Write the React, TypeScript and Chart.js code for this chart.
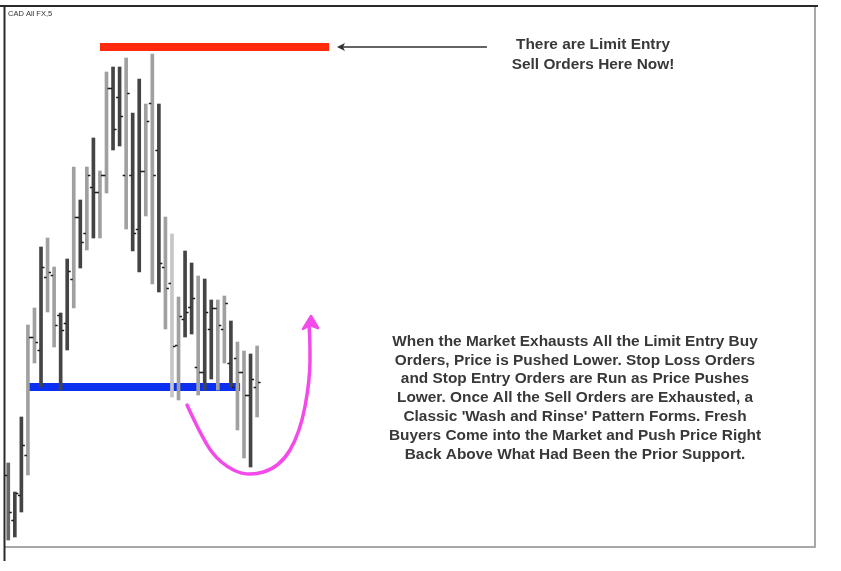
import React, { useEffect, useRef } from "react";
import { Chart, registerables } from "chart.js";

Chart.register(...registerables);

// ---- Data (price units, arbitrary) ----
const highs = [84, 55, 130, 222, 239, 300, 309, 280, 234, 288, 380, 347, 380, 409, 376, 475, 480, 480, 489, 434, 468, 443, 493, 443, 330, 313, 250, 296, 284, 271, 268, 247, 247, 251, 226, 205, 196, 193, 201];
const lows = [7, 10, 35, 72, 184, 160, 235, 200, 157, 197, 239, 279, 297, 309, 309, 354, 397, 401, 318, 296, 275, 331, 263, 255, 218, 150, 147, 210, 213, 152, 157, 168, 157, 184, 160, 117, 89, 80, 130];
const opens = [72, 27, 52, 92, 210, 197, 270, 272, 232, 224, 268, 330, 314, 360, 355, 372, 459, 450, 372, 372, 318, 376, 444, 397, 280, 264, 202, 228, 240, 180, 175, 218, 239, 218, 184, 189, 175, 152, 160];
const closes = [35, 54, 102, 210, 205, 280, 275, 222, 217, 276, 330, 305, 372, 355, 372, 459, 418, 431, 454, 314, 376, 426, 372, 284, 259, 201, 231, 235, 249, 175, 235, 239, 222, 244, 160, 175, 152, 168, 165];
const tones = ["m", "d", "d", "g", "g", "d", "g", "g", "d", "d", "g", "d", "g", "d", "g", "g", "d", "d", "g", "d", "d", "g", "g", "d", "g", "l", "g", "d", "d", "g", "d", "d", "g", "g", "d", "g", "g", "d", "g"];

const symbolLabel = "CAD All FX,5";

// Resistance (red) and support (blue) levels: [price, fromIndex, toIndex]
const resistanceLevel = [500, 14, 49];
const supportLevel = [160, 3, 35.4];

// Black arrow pointing at resistance: [price, tipIndex, tailIndex]
const pointerArrow = [500, 50.2, 73.1];

// Magenta "wash and rinse" path: [index, price]
const washPath = [
  [27.3, 142], [29.74, 107], [32.34, 84], [36.46, 70], [41.5, 80],
  [44.55, 114], [46.08, 167], [46.08, 207], [45.93, 222],
];
const washTip = [46.23, 231];

const topNoteLines = ["There are Limit Entry", "Sell Orders Here Now!"];
const topNoteAnchor = [89.3, 502];
const bodyNoteLines = [
  "When the Market Exhausts All the Limit Entry Buy",
  "Orders, Price is Pushed Lower. Stop Loss Orders",
  "and Stop Entry Orders are Run as Price Pushes",
  "Lower. Once All the Sell Orders are Exhausted, a",
  "Classic 'Wash and Rinse' Pattern Forms. Fresh",
  "Buyers Come into the Market and Push Price Right",
  "Back Above What Had Been the Prior Support.",
];
const bodyNoteAnchor = [86.55, 205];
const noteLineStep = 18.8;

const toneColors: Record<string, string> = {
  d: "#444444",
  g: "#a0a0a0",
  l: "#c6c6c6",
  m: "#666666",
};

const TEXT_FONT = 'bold 14px "Liberation Sans", Arial, sans-serif';
const TEXT_STRETCH = 1.1;

export default function App() {
  const ref = useRef<HTMLCanvasElement | null>(null);

  useEffect(() => {
    const canvas = ref.current;
    if (!canvas) return;

    const framePlugin = {
      id: "frame",
      beforeDraw(chart: any) {
        const { ctx, chartArea } = chart;
        ctx.save();
        ctx.fillStyle = "#ffffff";
        ctx.fillRect(0, 0, chart.width, chart.height);
        ctx.strokeStyle = "#a8a8a8";
        ctx.lineWidth = 2;
        ctx.beginPath();
        ctx.moveTo(chartArea.left, chartArea.bottom);
        ctx.lineTo(chartArea.right + 1, chartArea.bottom);
        ctx.moveTo(chartArea.right, chartArea.top);
        ctx.lineTo(chartArea.right, chartArea.bottom + 1);
        ctx.stroke();
        ctx.strokeStyle = "#2a2a2a";
        ctx.beginPath();
        ctx.moveTo(0, chartArea.top - 1);
        ctx.lineTo(chartArea.right + 3, chartArea.top - 1);
        ctx.moveTo(chartArea.left - 0.5, chartArea.top - 1);
        ctx.lineTo(chartArea.left - 0.5, chartArea.bottom + 14);
        ctx.stroke();
        ctx.fillStyle = "#333";
        ctx.font = '7.5px "Liberation Sans", Arial, sans-serif';
        ctx.textAlign = "left";
        ctx.textBaseline = "middle";
        ctx.fillText(symbolLabel, chartArea.left + 3, chartArea.top + 7);
        ctx.restore();
      },
    };

    const levelsPlugin = {
      id: "levels",
      beforeDatasetsDraw(chart: any) {
        const { ctx, scales } = chart;
        const x = scales.x;
        const y = scales.y;
        const drawLevel = (lvl: number[], color: string) => {
          const py = y.getPixelForValue(lvl[0]);
          ctx.fillStyle = color;
          ctx.fillRect(x.getPixelForValue(lvl[1]), py - 4, x.getPixelForValue(lvl[2]) - x.getPixelForValue(lvl[1]), 8);
        };
        ctx.save();
        drawLevel(resistanceLevel, "#ff2a0c");
        drawLevel(supportLevel, "#0c30f0");
        ctx.restore();
      },
    };

    const overlayPlugin = {
      id: "overlay",
      afterDatasetsDraw(chart: any) {
        const { ctx, scales } = chart;
        const x = scales.x;
        const y = scales.y;
        ctx.save();
        ctx.strokeStyle = "#1c1c1c";
        ctx.lineWidth = 1.5;
        for (let i = 0; i < highs.length; i++) {
          const px = x.getPixelForValue(i);
          const po = Math.round(y.getPixelForValue(opens[i])) + 0.5;
          const pc = Math.round(y.getPixelForValue(closes[i])) + 0.5;
          ctx.beginPath();
          ctx.moveTo(px - 3.5, po);
          ctx.lineTo(px - 1, po);
          ctx.moveTo(px + 1, pc);
          ctx.lineTo(px + 3.5, pc);
          ctx.stroke();
        }

        const ay = y.getPixelForValue(pointerArrow[0]);
        const tipX = x.getPixelForValue(pointerArrow[1]);
        const tailX = x.getPixelForValue(pointerArrow[2]);
        ctx.strokeStyle = "#303030";
        ctx.fillStyle = "#303030";
        ctx.lineWidth = 1.6;
        ctx.beginPath();
        ctx.moveTo(tipX + 3, ay);
        ctx.lineTo(tailX, ay);
        ctx.stroke();
        ctx.beginPath();
        ctx.moveTo(tipX, ay);
        ctx.lineTo(tipX + 8, ay - 4);
        ctx.lineTo(tipX + 6, ay);
        ctx.lineTo(tipX + 8, ay + 4);
        ctx.closePath();
        ctx.fill();

        const pts = washPath.map((p) => [x.getPixelForValue(p[0]), y.getPixelForValue(p[1])]);
        ctx.strokeStyle = "#f24be9";
        ctx.lineWidth = 3.5;
        ctx.lineCap = "round";
        ctx.lineJoin = "round";
        ctx.beginPath();
        ctx.moveTo(pts[0][0], pts[0][1]);
        for (let i = 1; i < pts.length - 1; i++) {
          const mx = (pts[i][0] + pts[i + 1][0]) / 2;
          const my = (pts[i][1] + pts[i + 1][1]) / 2;
          ctx.quadraticCurveTo(pts[i][0], pts[i][1], mx, my);
        }
        const last = pts[pts.length - 1];
        ctx.lineTo(last[0], last[1]);
        ctx.stroke();
        const tx = x.getPixelForValue(washTip[0]);
        const ty = y.getPixelForValue(washTip[1]);
        ctx.fillStyle = "#f24be9";
        ctx.lineWidth = 2.5;
        ctx.beginPath();
        ctx.moveTo(tx, ty);
        ctx.lineTo(tx - 8, ty + 13);
        ctx.lineTo(tx - 1, ty + 9);
        ctx.lineTo(tx + 7, ty + 12);
        ctx.closePath();
        ctx.fill();
        ctx.stroke();

        ctx.fillStyle = "#383838";
        ctx.font = TEXT_FONT;
        ctx.textAlign = "center";
        ctx.textBaseline = "middle";
        const drawText = (s: string, cx: number, cy: number) => {
          ctx.save();
          ctx.translate(cx, cy);
          ctx.scale(TEXT_STRETCH, 1);
          ctx.fillText(s, 0, 0);
          ctx.restore();
        };
        topNoteLines.forEach((line, i) => {
          drawText(line, x.getPixelForValue(topNoteAnchor[0]), y.getPixelForValue(topNoteAnchor[1] - i * 20));
        });
        bodyNoteLines.forEach((line, i) => {
          drawText(line, x.getPixelForValue(bodyNoteAnchor[0]), y.getPixelForValue(bodyNoteAnchor[1] - i * noteLineStep));
        });
        ctx.restore();
      },
    };

    const chart = new Chart(canvas, {
      type: "bar",
      data: {
        datasets: [
          {
            data: highs.map((h, i) => ({ x: i, y: [lows[i], h] })) as any,
            backgroundColor: tones.map((t) => toneColors[t]),
            borderWidth: 0,
            barThickness: 3,
          },
        ],
      },
      options: {
        animation: false,
        responsive: false,
        maintainAspectRatio: false,
        layout: { padding: { left: 5, top: 7, right: 26, bottom: 24 } },
        plugins: {
          legend: { display: false },
          tooltip: { enabled: false },
          title: { display: false },
        },
        scales: {
          x: { type: "linear", min: -0.5, max: 123.2, offset: false, display: false },
          y: { min: 0, max: 540, display: false },
        },
      },
      plugins: [framePlugin, levelsPlugin, overlayPlugin],
    });

    return () => chart.destroy();
  }, []);

  return (
    <div style={{ position: "fixed", left: 0, top: 0, width: 841, height: 571, background: "#fff" }}>
      <canvas ref={ref} width={841} height={571} style={{ display: "block", width: 841, height: 571 }} />
    </div>
  );
}
